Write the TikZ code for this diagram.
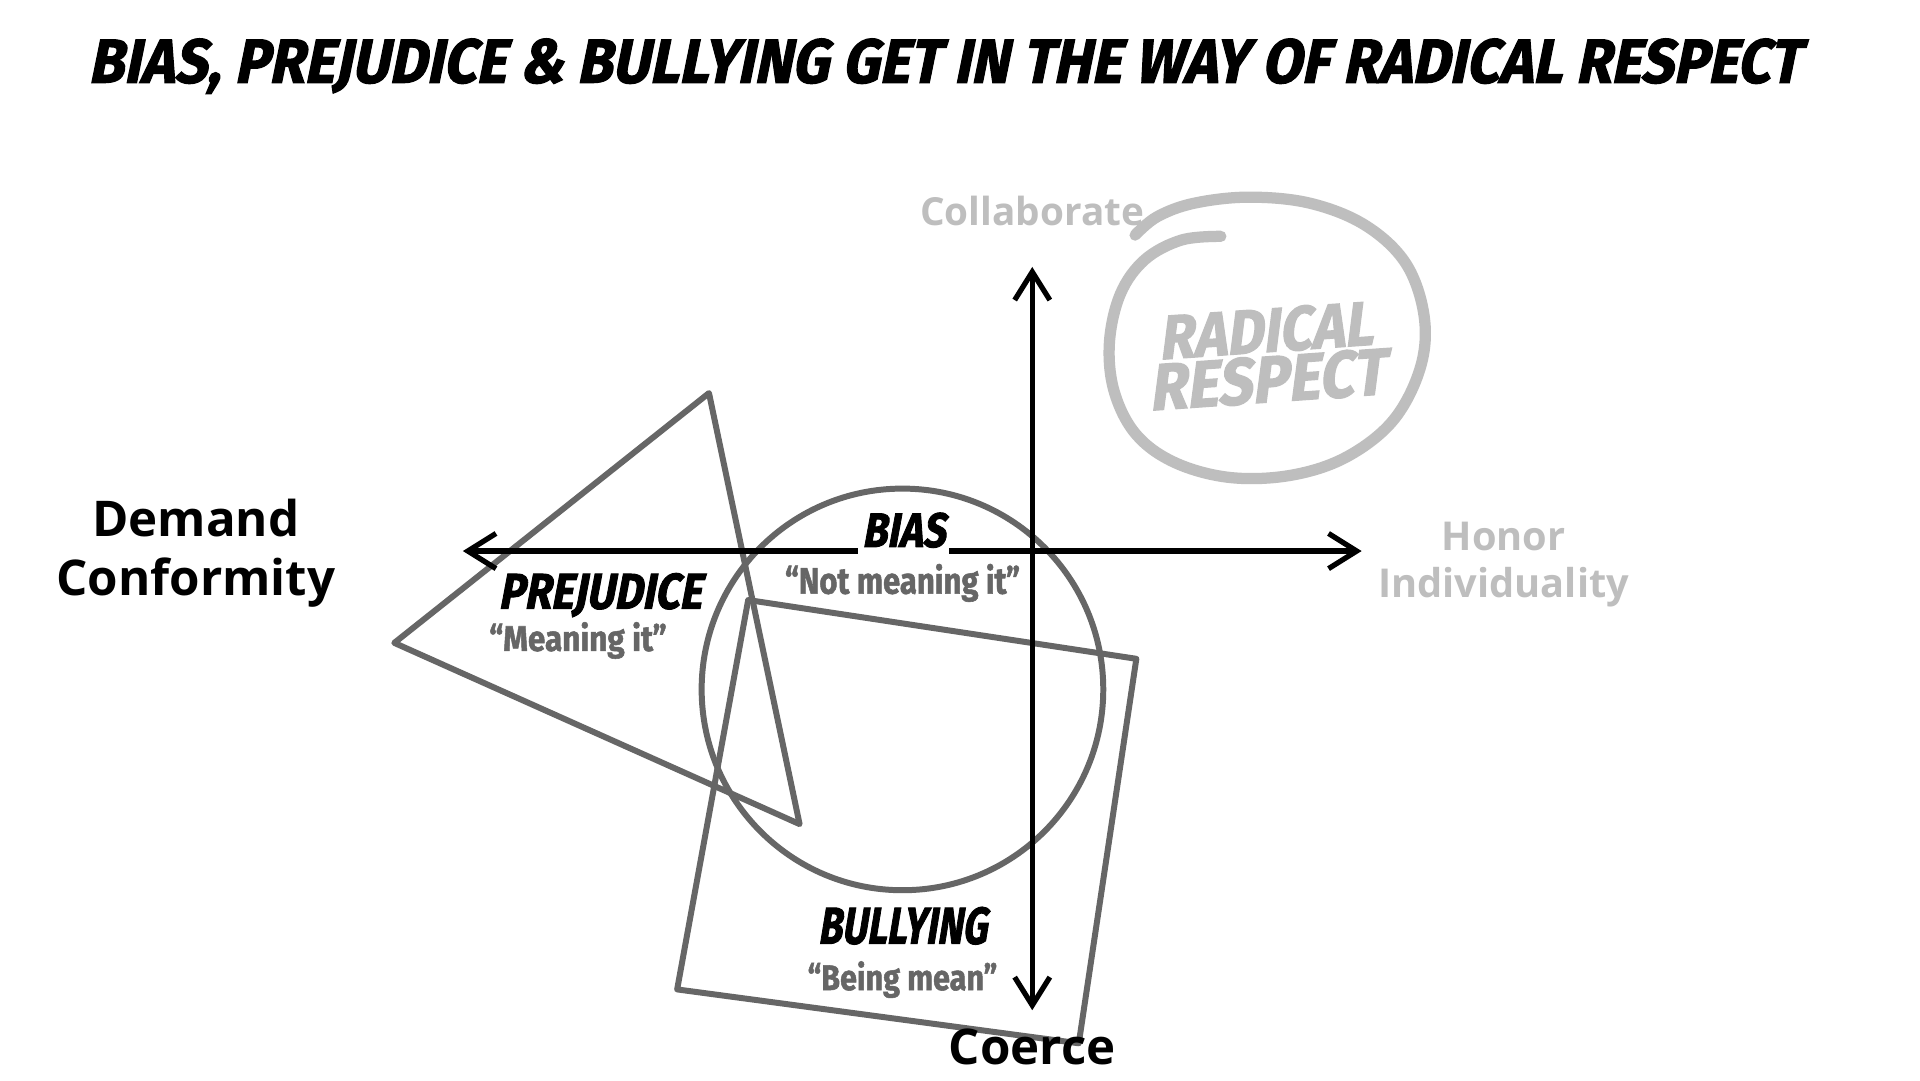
\documentclass[tikz,border=0pt]{standalone}
\usepackage{fontspec}
\usepackage{graphicx}
\usetikzlibrary{arrows.meta}
\newfontfamily\brushfont[FakeSlant=0.22,FakeBold=2]{Fira Sans}
\newfontfamily\labelfont{Open Sans}
\newfontfamily\quotefont[FakeBold=1.5]{Fira Sans}
\newdimen\dpx \dpx=0.012245cm
\definecolor{shapegray}{HTML}{666666}
\definecolor{lightgray}{HTML}{BEBEBE}
\newcommand\brushtext[3]{\resizebox{#1\dpx}{#2\dpx}{\brushfont\bfseries #3}}
\newcommand\quotetext[3]{\resizebox*{#1\dpx}{#2\dpx}{\quotefont\bfseries #3}}
\begin{document}
\begin{tikzpicture}[x=0.012245cm,y=-0.012245cm,
  outline/.style={draw=shapegray, line width=1.7pt, line join=round},
  axisline/.style={draw=black, line width=1.5pt, line cap=round,
    {Straight Barb[length=8pt,width=10pt,line width=1.5pt]}-{Straight Barb[length=8pt,width=10pt,line width=1.5pt]}},
  brush/.style={inner sep=0pt, text=black},
  quote/.style={inner sep=0pt, text=shapegray},
  axislabel/.style={inner sep=0pt, align=center, font=\labelfont\bfseries},
  loop/.style={draw=lightgray, line width=3.2pt, line cap=round, line join=round}]
\fill[white] (0,0) rectangle (1568,882);
\useasboundingbox (0,0) rectangle (1568,882);

% title
\node[brush] (title) at (771,54) {\brushtext{1398}{36}{BIAS, PREJUDICE \& BULLYING GET IN THE WAY OF RADICAL RESPECT}};

% shapes
\draw[outline] (579,321) -- (322,525) -- (653,673) -- cycle;
\draw[outline] (611,490) -- (928,538) -- (881,852) -- (553,808) -- cycle;
\node[outline, circle, minimum size=328\dpx, inner sep=0pt] (biascircle) at (737,563) {};

% radical respect loop
\draw[loop] plot[smooth, tension=0.6] coordinates {(997,193) (965,196) (935,212) (915,240) (906,280) (910,320) (928,355) (960,378) (1005,390) (1055,388) (1100,373) (1138,343) (1160,300) (1163,258) (1148,215) (1115,184) (1070,166) (1020,161) (975,166) (945,177) (927,192)};
\node[inner sep=0pt, text=lightgray, rotate=4] (radical) at (1033,270) {\resizebox{175\dpx}{36\dpx}{\brushfont\bfseries RADICAL}};
\node[inner sep=0pt, text=lightgray, rotate=4] (respect) at (1034,310) {\resizebox{193\dpx}{38\dpx}{\brushfont\bfseries RESPECT}};

% axes
\coordinate (xl) at (378,450);
\coordinate (xr) at (1112,450);
\coordinate (yt) at (843,218);
\coordinate (yb) at (843,825);
\draw[axisline] (xl) -- (xr);
\draw[axisline] (yb) -- (yt);

% labels
\node[brush, fill=white, inner xsep=3\dpx, inner ysep=5\dpx] (bias) at (738,433) {\brushtext{68}{28}{BIAS}};
\node[quote] (biasq) at (737,476) {\quotetext{192}{31}{“Not meaning it”}};
\node[brush] (prejudice) at (490,486) {\brushtext{166}{29}{PREJUDICE}};
\node[quote] (prejq) at (472,523) {\quotetext{145}{30}{“Meaning it”}};
\node[brush] (bullying) at (737,756) {\brushtext{138}{30}{BULLYING}};
\node[quote] (bullyq) at (737,800) {\quotetext{155}{30}{“Being mean”}};

\node[axislabel, text=black, font=\labelfont\bfseries\fontsize{14}{16.7}\selectfont] (demand) at (160,452) {Demand\\Conformity};
\node[axislabel, text=lightgray, font=\labelfont\bfseries\fontsize{11.3}{13.2}\selectfont] (honor) at (1228,461) {Honor\\Individuality};
\node[axislabel, text=lightgray, font=\labelfont\bfseries\fontsize{11}{13}\selectfont] (collab) at (843,172) {Collaborate};
\node[axislabel, text=black, font=\labelfont\bfseries\fontsize{14}{16}\selectfont] (coerce) at (843,855) {Coerce};
\end{tikzpicture}
\end{document}
